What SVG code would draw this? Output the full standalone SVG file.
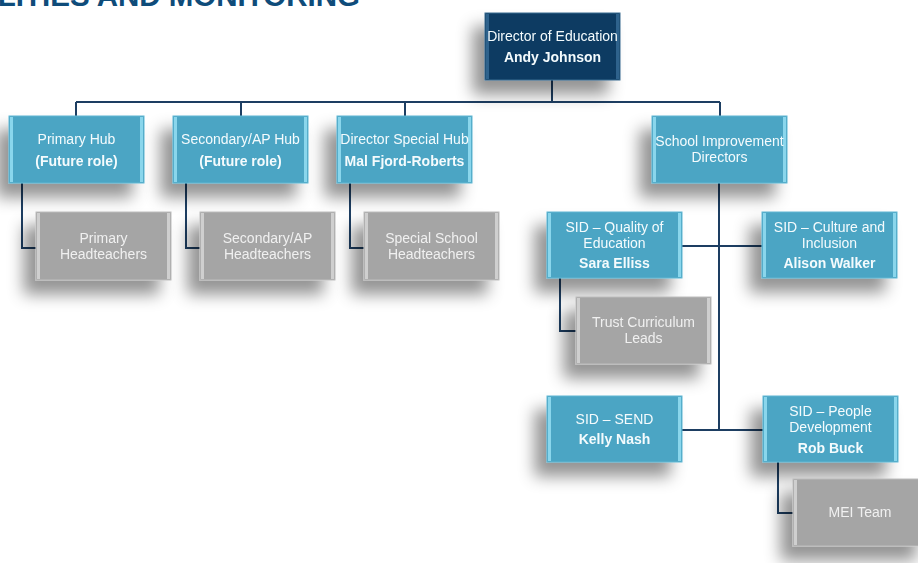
<svg xmlns="http://www.w3.org/2000/svg" width="918" height="563" viewBox="0 0 918 563">
<defs>
<filter id="sh" x="-40%" y="-40%" width="180%" height="190%">
<feGaussianBlur in="SourceAlpha" stdDeviation="8"/>
<feOffset dx="-12" dy="14" result="b"/>
<feFlood flood-color="#000" flood-opacity="0.42"/>
<feComposite in2="b" operator="in"/>
<feMerge><feMergeNode/><feMergeNode in="SourceGraphic"/></feMerge>
</filter>
<style>
.t{font-family:"Liberation Sans",Arial,sans-serif;font-size:14px;text-anchor:middle;fill:#f4fbfd}
.b{font-weight:bold}
.g .t{fill:#f0f0f0}
.blue{fill:#4ba5c4;stroke:#5fb6d2;stroke-width:1}
.navy{fill:#0c3b62;stroke:#3a6b90;stroke-width:1}
.gray{fill:#a5a5a5;stroke:#bcbcbc;stroke-width:1}
.eb{fill:#8ad6ec}
.en{fill:#2f628c}
.eg{fill:#cfcfcf}
.c{fill:none;stroke:#1d3e62;stroke-width:2}
.title{font-family:"Liberation Sans",Arial,sans-serif;font-weight:bold;font-size:29.5px;fill:#0f4c7a;text-anchor:end}
</style>
</defs>
<rect width="918" height="563" fill="#fff"/>
<text class="title" x="360" y="6">LITIES AND MONITORING</text>

<g id="connectors">
<path class="c" d="M552 80V102M76 102H720M76 102V116M241 102V116M405 102V116M720 102V116"/>
<path class="c" d="M22 183V248H36M186 183V248H200M350 183V248H364"/>
<path class="c" d="M719 183V430M682 246H762M682 430H763"/>
<path class="c" d="M560 278V331H576M778 462V513H793"/>
</g>

<g id="director" filter="url(#sh)">
<rect class="navy" x="485" y="13" width="135" height="67"/>
<rect class="en" x="486" y="14" width="3" height="65"/><rect class="en" x="616" y="14" width="3" height="65"/>
<text class="t" x="552.5" y="41">Director of Education</text>
<text class="t b" x="552.5" y="62">Andy Johnson</text>
</g>

<g id="primary-hub" filter="url(#sh)">
<rect class="blue" x="9" y="116" width="135" height="67"/>
<rect class="eb" x="10" y="117" width="3" height="65"/><rect class="eb" x="140" y="117" width="3" height="65"/>
<text class="t" x="76.5" y="144">Primary Hub</text>
<text class="t b" x="76.5" y="166">(Future role)</text>
</g>

<g id="secondary-hub" filter="url(#sh)">
<rect class="blue" x="173" y="116" width="135" height="67"/>
<rect class="eb" x="174" y="117" width="3" height="65"/><rect class="eb" x="304" y="117" width="3" height="65"/>
<text class="t" x="240.5" y="144">Secondary/AP Hub</text>
<text class="t b" x="240.5" y="166">(Future role)</text>
</g>

<g id="special-hub" filter="url(#sh)">
<rect class="blue" x="337" y="116" width="135" height="67"/>
<rect class="eb" x="338" y="117" width="3" height="65"/><rect class="eb" x="468" y="117" width="3" height="65"/>
<text class="t" x="404.5" y="144">Director Special Hub</text>
<text class="t b" x="404.5" y="166">Mal Fjord-Roberts</text>
</g>

<g id="sid-directors" filter="url(#sh)">
<rect class="blue" x="652" y="116" width="135" height="67"/>
<rect class="eb" x="653" y="117" width="3" height="65"/><rect class="eb" x="783" y="117" width="3" height="65"/>
<text class="t" x="719.5" y="146">School Improvement</text>
<text class="t" x="719.5" y="162">Directors</text>
</g>

<g id="primary-ht" class="g" filter="url(#sh)">
<rect class="gray" x="36" y="212" width="135" height="68"/>
<rect class="eg" x="37" y="213" width="3" height="66"/><rect class="eg" x="167" y="213" width="3" height="66"/>
<text class="t" x="103.5" y="243">Primary</text>
<text class="t" x="103.5" y="259">Headteachers</text>
</g>

<g id="secondary-ht" class="g" filter="url(#sh)">
<rect class="gray" x="200" y="212" width="135" height="68"/>
<rect class="eg" x="201" y="213" width="3" height="66"/><rect class="eg" x="331" y="213" width="3" height="66"/>
<text class="t" x="267.5" y="243">Secondary/AP</text>
<text class="t" x="267.5" y="259">Headteachers</text>
</g>

<g id="special-ht" class="g" filter="url(#sh)">
<rect class="gray" x="364" y="212" width="135" height="68"/>
<rect class="eg" x="365" y="213" width="3" height="66"/><rect class="eg" x="495" y="213" width="3" height="66"/>
<text class="t" x="431.5" y="243">Special School</text>
<text class="t" x="431.5" y="259">Headteachers</text>
</g>

<g id="sid-quality" filter="url(#sh)">
<rect class="blue" x="547" y="212" width="135" height="66"/>
<rect class="eb" x="548" y="213" width="3" height="64"/><rect class="eb" x="678" y="213" width="3" height="64"/>
<text class="t" x="614.5" y="232">SID – Quality of</text>
<text class="t" x="614.5" y="248">Education</text>
<text class="t b" x="614.5" y="268">Sara Elliss</text>
</g>

<g id="sid-culture" filter="url(#sh)">
<rect class="blue" x="762" y="212" width="135" height="66"/>
<rect class="eb" x="763" y="213" width="3" height="64"/><rect class="eb" x="893" y="213" width="3" height="64"/>
<text class="t" x="829.5" y="232">SID – Culture and</text>
<text class="t" x="829.5" y="248">Inclusion</text>
<text class="t b" x="829.5" y="268">Alison Walker</text>
</g>

<g id="trust-leads" class="g" filter="url(#sh)">
<rect class="gray" x="576" y="297" width="135" height="67"/>
<rect class="eg" x="577" y="298" width="3" height="65"/><rect class="eg" x="707" y="298" width="3" height="65"/>
<text class="t" x="643.5" y="327">Trust Curriculum</text>
<text class="t" x="643.5" y="343">Leads</text>
</g>

<g id="sid-send" filter="url(#sh)">
<rect class="blue" x="547" y="396" width="135" height="66"/>
<rect class="eb" x="548" y="397" width="3" height="64"/><rect class="eb" x="678" y="397" width="3" height="64"/>
<text class="t" x="614.5" y="424">SID – SEND</text>
<text class="t b" x="614.5" y="444">Kelly Nash</text>
</g>

<g id="sid-people" filter="url(#sh)">
<rect class="blue" x="763" y="396" width="135" height="66"/>
<rect class="eb" x="764" y="397" width="3" height="64"/><rect class="eb" x="894" y="397" width="3" height="64"/>
<text class="t" x="830.5" y="416">SID – People</text>
<text class="t" x="830.5" y="432">Development</text>
<text class="t b" x="830.5" y="453">Rob Buck</text>
</g>

<g id="mei-team" class="g" filter="url(#sh)">
<rect class="gray" x="793" y="479" width="135" height="67"/>
<rect class="eg" x="794" y="480" width="3" height="65"/>
<text class="t" x="860" y="517">MEI Team</text>
</g>
</svg>
